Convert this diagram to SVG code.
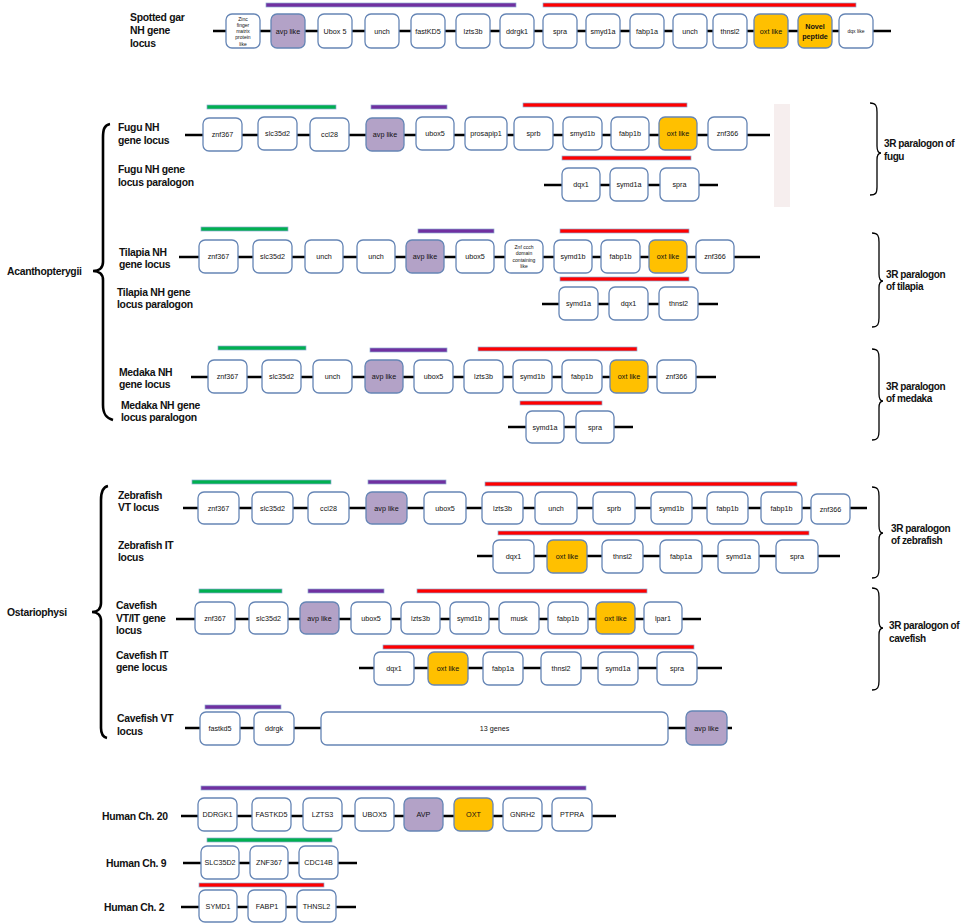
<svg xmlns="http://www.w3.org/2000/svg" width="964" height="923" viewBox="0 0 964 923">
<style>
.g{fill:#fff;stroke:#6585B5;stroke-width:1.3}
.a{fill:#B3A2C7;stroke:#6585B5;stroke-width:1.3}
.o{fill:#FFC000;stroke:#6585B5;stroke-width:1.3}
.t{font-family:"Liberation Sans",Arial,sans-serif;font-size:7.2px;fill:#111;text-anchor:middle;dominant-baseline:central}
.s{font-size:5px}
.b{font-weight:bold}
.l{font-family:"Liberation Sans",Arial,sans-serif;font-size:10.4px;font-weight:bold;fill:#111;dominant-baseline:central;letter-spacing:-0.3px}
.r{font-size:10px;letter-spacing:-0.4px}
.c{stroke:#000;stroke-width:2.6;fill:none}
.bp{fill:#7030A0;stroke:#8EA9D0;stroke-width:.7}
.br{fill:#FF0000;stroke:#8EA9D0;stroke-width:.7}
.bg{fill:#00B050;stroke:#8EA9D0;stroke-width:.7}
.br2{stroke:#000;stroke-width:1.3;fill:none}
</style>
<rect width="964" height="923" fill="#fff"/>
<rect x="774" y="104" width="16" height="103" fill="#F6EEEE"/>

<g id="connectors">
<line class="c" x1="213" y1="31" x2="891" y2="31" stroke-width="3"/>
<line class="c" x1="185" y1="135" x2="770" y2="135"/>
<line class="c" x1="544" y1="185" x2="718" y2="185"/>
<line class="c" x1="179" y1="257" x2="760" y2="257"/>
<line class="c" x1="542" y1="304" x2="718" y2="304"/>
<line class="c" x1="191" y1="377" x2="716" y2="377"/>
<line class="c" x1="508" y1="427" x2="633" y2="427"/>
<line class="c" x1="183" y1="508" x2="867" y2="508"/>
<line class="c" x1="477" y1="556" x2="840" y2="556"/>
<line class="c" x1="176" y1="619" x2="701" y2="619"/>
<line class="c" x1="359" y1="668" x2="722" y2="668"/>
<line class="c" x1="185" y1="728" x2="732" y2="728"/>
<line class="c" x1="181" y1="816" x2="616" y2="816"/>
<line class="c" x1="183" y1="863" x2="357" y2="863"/>
<line class="c" x1="181" y1="907" x2="356" y2="907"/>
</g>

<g id="bars">
<rect class="bp" x="266" y="3" width="250" height="4"/>
<rect class="br" x="543" y="3" width="313" height="4"/>
<rect class="bg" x="207" y="105" width="129" height="4"/>
<rect class="bp" x="371" y="105" width="76" height="4"/>
<rect class="br" x="523" y="103" width="164" height="4"/>
<rect class="br" x="562" y="156" width="129" height="4"/>
<rect class="bg" x="201" y="227" width="87" height="4"/>
<rect class="bp" x="418" y="229" width="76" height="4"/>
<rect class="br" x="560" y="229" width="129" height="4"/>
<rect class="br" x="560" y="277" width="129" height="4"/>
<rect class="bg" x="218" y="346" width="88" height="4"/>
<rect class="bp" x="370" y="348" width="77" height="4"/>
<rect class="br" x="478" y="347" width="159" height="4"/>
<rect class="br" x="520" y="401" width="82" height="4"/>
<rect class="bg" x="192" y="480" width="139" height="4"/>
<rect class="bp" x="368" y="480" width="78" height="4"/>
<rect class="br" x="485" y="482" width="312" height="4"/>
<rect class="br" x="498" y="531" width="311" height="4"/>
<rect class="bg" x="199" y="589" width="83" height="4"/>
<rect class="bp" x="308" y="589" width="76" height="4"/>
<rect class="br" x="417" y="589" width="230" height="4"/>
<rect class="br" x="383" y="645" width="311" height="4"/>
<rect class="bp" x="205" y="705" width="76" height="4"/>
<rect class="bp" x="201" y="786" width="385" height="4"/>
<rect class="bg" x="207" y="838" width="125" height="4"/>
<rect class="br" x="199" y="883" width="125" height="4"/>
</g>

<g id="labels">
<text class="l" x="130" y="17">Spotted gar</text>
<text class="l" x="130" y="30">NH gene</text>
<text class="l" x="130" y="43">locus</text>
<text class="l" x="118" y="127">Fugu NH</text>
<text class="l" x="118" y="140">gene locus</text>
<text class="l" x="118" y="169">Fugu NH gene</text>
<text class="l" x="118" y="182">locus paralogon</text>
<text class="l" x="119" y="252">Tilapia NH</text>
<text class="l" x="119" y="264">gene locus</text>
<text class="l" x="117" y="292">Tilapia NH gene</text>
<text class="l" x="117" y="304">locus paralogon</text>
<text class="l" x="119" y="372">Medaka NH</text>
<text class="l" x="119" y="384">gene locus</text>
<text class="l" x="121" y="405">Medaka NH gene</text>
<text class="l" x="121" y="417">locus paralogon</text>
<text class="l" x="118" y="495">Zebrafish</text>
<text class="l" x="118" y="507">VT locus</text>
<text class="l" x="118" y="545">Zebrafish IT</text>
<text class="l" x="118" y="557">locus</text>
<text class="l" x="116" y="605">Cavefish</text>
<text class="l" x="116" y="618">VT/IT gene</text>
<text class="l" x="116" y="630">locus</text>
<text class="l" x="116" y="655">Cavefish IT</text>
<text class="l" x="116" y="667">gene locus</text>
<text class="l" x="117" y="718">Cavefish VT</text>
<text class="l" x="117" y="731">locus</text>
<text class="l" x="102" y="816">Human Ch. 20</text>
<text class="l" x="106" y="863">Human Ch. 9</text>
<text class="l" x="104" y="907">Human Ch. 2</text>
<text class="l" x="7" y="271">Acanthopterygii</text>
<text class="l" x="7" y="612">Ostariophysi</text>
<text class="l r" x="884" y="143">3R paralogon of</text>
<text class="l r" x="884" y="156">fugu</text>
<text class="l r" x="886" y="274">3R paralogon</text>
<text class="l r" x="886" y="286">of tilapia</text>
<text class="l r" x="886" y="386">3R paralogon</text>
<text class="l r" x="886" y="398">of medaka</text>
<text class="l r" x="891" y="528">3R paralogon</text>
<text class="l r" x="891" y="540">of zebrafish</text>
<text class="l r" x="889" y="625">3R paralogon of</text>
<text class="l r" x="889" y="638">cavefish</text>
</g>

<g id="braces">
<path class="c" d="M110 124 C104 125,103 130,103 138 L103 262 C103 268,99 271,93 271 C99 271,103 274,103 280 L103 405 C103 414,106 418,113 420"/>
<path class="c" stroke-width="1.6" d="M108 486 C103 487,101 492,101 500 L101 603 C101 609,97 612,92 612 C97 612,101 615,101 621 L101 728 C101 734,103 737,107 738"/>
<path class="br2" d="M870 103 C876 103,877 106,877 112 L877 146 C877 151,878 153,881 153 C878 153,877 155,877 160 L877 187 C877 193,876 195,870 195"/>
<path class="br2" d="M872 233 C878 233,879 236,879 242 L879 274 C879 279,880 281,883 281 C880 281,879 283,879 288 L879 318 C879 324,878 327,872 327"/>
<path class="br2" d="M872 349 C878 349,879 352,879 358 L879 394 C879 399,880 401,883 401 C880 401,879 403,879 408 L879 431 C879 437,878 440,872 440"/>
<path class="br2" d="M872 487 C878 487,879 490,879 496 L879 526 C879 531,880 533,883 533 C880 533,879 535,879 540 L879 569 C879 575,878 578,872 578"/>
<path class="br2" d="M872 588 C878 588,879 591,879 597 L879 621 C879 626,880 628,883 628 C880 628,879 630,879 635 L879 681 C879 687,878 690,872 690"/>
</g>

<g id="gar">
<g id="gar1"><rect class="g" x="226" y="14" width="34" height="34" rx="6"/><text class="t s" x="243" y="18.5">Zinc</text><text class="t s" x="243" y="24.8">finger</text><text class="t s" x="243" y="31">matrix</text><text class="t s" x="243" y="37.3">protein</text><text class="t s" x="243" y="43.5">like</text></g>
<g id="gar2"><rect class="a" x="271" y="14" width="34" height="34" rx="6"/><text class="t" x="288" y="31">avp like</text></g>
<g id="gar3"><rect class="g" x="318" y="14" width="34" height="34" rx="6"/><text class="t" x="335" y="31">Ubox 5</text></g>
<g id="gar4"><rect class="g" x="365" y="14" width="34" height="34" rx="6"/><text class="t" x="382" y="31">unch</text></g>
<g id="gar5"><rect class="g" x="411" y="14" width="34" height="34" rx="6"/><text class="t" x="428" y="31">fastKD5</text></g>
<g id="gar6"><rect class="g" x="456" y="14" width="34" height="34" rx="6"/><text class="t" x="473" y="31">lzts3b</text></g>
<g id="gar7"><rect class="g" x="500" y="14" width="34" height="34" rx="6"/><text class="t" x="517" y="31">ddrgk1</text></g>
<g id="gar8"><rect class="g" x="543" y="14" width="34" height="34" rx="6"/><text class="t" x="560" y="31">spra</text></g>
<g id="gar9"><rect class="g" x="586" y="14" width="34" height="34" rx="6"/><text class="t" x="603" y="31">smyd1a</text></g>
<g id="gar10"><rect class="g" x="630" y="14" width="34" height="34" rx="6"/><text class="t" x="647" y="31">fabp1a</text></g>
<g id="gar11"><rect class="g" x="673" y="14" width="34" height="34" rx="6"/><text class="t" x="690" y="31">unch</text></g>
<g id="gar12"><rect class="g" x="713" y="14" width="34" height="34" rx="6"/><text class="t" x="730" y="31">thnsl2</text></g>
<g id="gar13"><rect class="o" x="754" y="14" width="34" height="34" rx="6"/><text class="t" x="771" y="31">oxt like</text></g>
<g id="gar14"><rect class="o" x="798" y="14" width="34" height="34" rx="6"/><text class="t b" x="815" y="26">Novel</text><text class="t b" x="815" y="36">peptide</text></g>
<g id="gar15"><rect class="g" x="839" y="14" width="34" height="34" rx="6"/><text class="t s" x="856" y="31">dqx like</text></g>
</g>

<g id="fugu">
<g id="fu1"><rect class="g" x="203" y="118" width="39" height="33" rx="6"/><text class="t" x="222.5" y="134.5">znf367</text></g>
<g id="fu2"><rect class="g" x="258" y="117" width="39" height="33" rx="6"/><text class="t" x="277.5" y="133.5">slc35d2</text></g>
<g id="fu3"><rect class="g" x="310" y="118" width="39" height="33" rx="6"/><text class="t" x="329.5" y="134.5">ccl28</text></g>
<g id="fu4"><rect class="a" x="366" y="118" width="38" height="33" rx="6"/><text class="t" x="385" y="134.5">avp like</text></g>
<g id="fu5"><rect class="g" x="416" y="117" width="38" height="33" rx="6"/><text class="t" x="435" y="133.5">ubox5</text></g>
<g id="fu6"><rect class="g" x="465" y="117" width="42" height="33" rx="6"/><text class="t" x="486" y="133.5">prosapip1</text></g>
<g id="fu7"><rect class="g" x="514" y="117" width="39" height="33" rx="6"/><text class="t" x="533.5" y="133.5">sprb</text></g>
<g id="fu8"><rect class="g" x="563" y="117" width="39" height="33" rx="6"/><text class="t" x="582.5" y="133.5">smyd1b</text></g>
<g id="fu9"><rect class="g" x="611" y="117" width="38" height="33" rx="6"/><text class="t" x="630" y="133.5">fabp1b</text></g>
<g id="fu10"><rect class="o" x="659" y="117" width="38" height="33" rx="6"/><text class="t" x="678" y="133.5">oxt like</text></g>
<g id="fu11"><rect class="g" x="708" y="117" width="39" height="33" rx="6"/><text class="t" x="727.5" y="133.5">znf366</text></g>
<g id="fp1"><rect class="g" x="562" y="168" width="38" height="33" rx="6"/><text class="t" x="581" y="184.5">dqx1</text></g>
<g id="fp2"><rect class="g" x="610" y="168" width="38" height="33" rx="6"/><text class="t" x="629" y="184.5">symd1a</text></g>
<g id="fp3"><rect class="g" x="660" y="168" width="39" height="33" rx="6"/><text class="t" x="679.5" y="184.5">spra</text></g>
</g>

<g id="tilapia">
<g id="ti1"><rect class="g" x="199" y="240" width="39" height="33" rx="6"/><text class="t" x="218.5" y="256.5">znf367</text></g>
<g id="ti2"><rect class="g" x="253" y="240" width="39" height="33" rx="6"/><text class="t" x="272.5" y="256.5">slc35d2</text></g>
<g id="ti3"><rect class="g" x="305" y="240" width="38" height="33" rx="6"/><text class="t" x="324" y="256.5">unch</text></g>
<g id="ti4"><rect class="g" x="357" y="240" width="38" height="33" rx="6"/><text class="t" x="376" y="256.5">unch</text></g>
<g id="ti5"><rect class="a" x="406" y="240" width="38" height="33" rx="6"/><text class="t" x="425" y="256.5">avp like</text></g>
<g id="ti6"><rect class="g" x="456" y="240" width="38" height="33" rx="6"/><text class="t" x="475" y="256.5">ubox5</text></g>
<g id="ti7"><rect class="g" x="505" y="240" width="38" height="33" rx="6"/><text class="t s" x="524" y="246.5">Znf ccch</text><text class="t s" x="524" y="253">domain</text><text class="t s" x="524" y="259.5">containing</text><text class="t s" x="524" y="266">like</text></g>
<g id="ti8"><rect class="g" x="554" y="240" width="38" height="33" rx="6"/><text class="t" x="573" y="256.5">symd1b</text></g>
<g id="ti9"><rect class="g" x="601" y="240" width="39" height="33" rx="6"/><text class="t" x="620.5" y="256.5">fabp1b</text></g>
<g id="ti10"><rect class="o" x="649" y="240" width="38" height="33" rx="6"/><text class="t" x="668" y="256.5">oxt like</text></g>
<g id="ti11"><rect class="g" x="696" y="240" width="38" height="33" rx="6"/><text class="t" x="715" y="256.5">znf366</text></g>
<g id="tp1"><rect class="g" x="559" y="287" width="39" height="33" rx="6"/><text class="t" x="578.5" y="303.5">symd1a</text></g>
<g id="tp2"><rect class="g" x="609" y="287" width="39" height="33" rx="6"/><text class="t" x="628.5" y="303.5">dqx1</text></g>
<g id="tp3"><rect class="g" x="659" y="287" width="39" height="33" rx="6"/><text class="t" x="678.5" y="303.5">thnsl2</text></g>
</g>

<g id="medaka">
<g id="me1"><rect class="g" x="208" y="360" width="39" height="33" rx="6"/><text class="t" x="227.5" y="376.5">znf367</text></g>
<g id="me2"><rect class="g" x="262" y="360" width="39" height="33" rx="6"/><text class="t" x="281.5" y="376.5">slc35d2</text></g>
<g id="me3"><rect class="g" x="313" y="360" width="39" height="33" rx="6"/><text class="t" x="332.5" y="376.5">unch</text></g>
<g id="me4"><rect class="a" x="365" y="360" width="38" height="33" rx="6"/><text class="t" x="384" y="376.5">avp like</text></g>
<g id="me5"><rect class="g" x="414" y="360" width="39" height="33" rx="6"/><text class="t" x="433.5" y="376.5">ubox5</text></g>
<g id="me6"><rect class="g" x="464" y="360" width="39" height="33" rx="6"/><text class="t" x="483.5" y="376.5">lzts3b</text></g>
<g id="me7"><rect class="g" x="513" y="360" width="39" height="33" rx="6"/><text class="t" x="532.5" y="376.5">symd1b</text></g>
<g id="me8"><rect class="g" x="562" y="360" width="40" height="33" rx="6"/><text class="t" x="582" y="376.5">fabp1b</text></g>
<g id="me9"><rect class="o" x="610" y="360" width="38" height="33" rx="6"/><text class="t" x="629" y="376.5">oxt like</text></g>
<g id="me10"><rect class="g" x="657" y="360" width="39" height="33" rx="6"/><text class="t" x="676.5" y="376.5">znf366</text></g>
<g id="mp1"><rect class="g" x="526" y="411" width="38" height="32" rx="6"/><text class="t" x="545" y="427">symd1a</text></g>
<g id="mp2"><rect class="g" x="576" y="411" width="38" height="32" rx="6"/><text class="t" x="595" y="427">spra</text></g>
</g>

<g id="zebrafish">
<g id="zv1"><rect class="g" x="198" y="492" width="41" height="32" rx="6"/><text class="t" x="218.5" y="508">znf367</text></g>
<g id="zv2"><rect class="g" x="252" y="492" width="41" height="32" rx="6"/><text class="t" x="272.5" y="508">slc35d2</text></g>
<g id="zv3"><rect class="g" x="308" y="492" width="41" height="32" rx="6"/><text class="t" x="328.5" y="508">ccl28</text></g>
<g id="zv4"><rect class="a" x="366" y="492" width="41" height="32" rx="6"/><text class="t" x="386.5" y="508">avp like</text></g>
<g id="zv5"><rect class="g" x="424" y="492" width="42" height="32" rx="6"/><text class="t" x="445" y="508">ubox5</text></g>
<g id="zv6"><rect class="g" x="482" y="492" width="41" height="32" rx="6"/><text class="t" x="502.5" y="508">lzts3b</text></g>
<g id="zv7"><rect class="g" x="535" y="492" width="42" height="32" rx="6"/><text class="t" x="556" y="508">unch</text></g>
<g id="zv8"><rect class="g" x="593" y="492" width="42" height="32" rx="6"/><text class="t" x="614" y="508">sprb</text></g>
<g id="zv9"><rect class="g" x="651" y="492" width="41" height="32" rx="6"/><text class="t" x="671.5" y="508">symd1b</text></g>
<g id="zv10"><rect class="g" x="707" y="492" width="41" height="32" rx="6"/><text class="t" x="727.5" y="508">fabp1b</text></g>
<g id="zv11"><rect class="g" x="761" y="492" width="41" height="32" rx="6"/><text class="t" x="781.5" y="508">fabp1b</text></g>
<g id="zv12"><rect class="g" x="811" y="494" width="39" height="30" rx="6"/><text class="t" x="830.5" y="509">znf366</text></g>
<g id="zi1"><rect class="g" x="493" y="540" width="41" height="33" rx="6"/><text class="t" x="513.5" y="556.5">dqx1</text></g>
<g id="zi2"><rect class="o" x="547" y="540" width="40" height="33" rx="6"/><text class="t" x="567" y="556.5">oxt like</text></g>
<g id="zi3"><rect class="g" x="602" y="540" width="41" height="33" rx="6"/><text class="t" x="622.5" y="556.5">thnsl2</text></g>
<g id="zi4"><rect class="g" x="660" y="540" width="42" height="33" rx="6"/><text class="t" x="681" y="556.5">fabp1a</text></g>
<g id="zi5"><rect class="g" x="718" y="540" width="41" height="33" rx="6"/><text class="t" x="738.5" y="556.5">symd1a</text></g>
<g id="zi6"><rect class="g" x="776" y="540" width="42" height="33" rx="6"/><text class="t" x="797" y="556.5">spra</text></g>
</g>

<g id="cavefish">
<g id="cv1"><rect class="g" x="195" y="602" width="40" height="32" rx="6"/><text class="t" x="215" y="618">znf367</text></g>
<g id="cv2"><rect class="g" x="249" y="602" width="39" height="32" rx="6"/><text class="t" x="268.5" y="618">slc35d2</text></g>
<g id="cv3"><rect class="a" x="300" y="602" width="39" height="32" rx="6"/><text class="t" x="319.5" y="618">avp like</text></g>
<g id="cv4"><rect class="g" x="351" y="602" width="40" height="32" rx="6"/><text class="t" x="371" y="618">ubox5</text></g>
<g id="cv5"><rect class="g" x="401" y="602" width="39" height="32" rx="6"/><text class="t" x="420.5" y="618">lzts3b</text></g>
<g id="cv6"><rect class="g" x="450" y="602" width="39" height="32" rx="6"/><text class="t" x="469.5" y="618">symd1b</text></g>
<g id="cv7"><rect class="g" x="499" y="602" width="40" height="32" rx="6"/><text class="t" x="519" y="618">musk</text></g>
<g id="cv8"><rect class="g" x="548" y="602" width="40" height="32" rx="6"/><text class="t" x="568" y="618">fabp1b</text></g>
<g id="cv9"><rect class="o" x="596" y="602" width="39" height="32" rx="6"/><text class="t" x="615.5" y="618">oxt like</text></g>
<g id="cv10"><rect class="g" x="644" y="602" width="38" height="32" rx="6"/><text class="t" x="663" y="618">lpar1</text></g>
<g id="ci1"><rect class="g" x="374" y="652" width="40" height="33" rx="6"/><text class="t" x="394" y="668.5">dqx1</text></g>
<g id="ci2"><rect class="o" x="428" y="652" width="40" height="33" rx="6"/><text class="t" x="448" y="668.5">oxt like</text></g>
<g id="ci3"><rect class="g" x="483" y="652" width="40" height="33" rx="6"/><text class="t" x="503" y="668.5">fabp1a</text></g>
<g id="ci4"><rect class="g" x="541" y="652" width="40" height="33" rx="6"/><text class="t" x="561" y="668.5">thnsl2</text></g>
<g id="ci5"><rect class="g" x="598" y="652" width="40" height="33" rx="6"/><text class="t" x="618" y="668.5">symd1a</text></g>
<g id="ci6"><rect class="g" x="657" y="652" width="40" height="33" rx="6"/><text class="t" x="677" y="668.5">spra</text></g>
<g id="cw1"><rect class="g" x="200" y="712" width="40" height="33" rx="6"/><text class="t" x="220" y="728.5">fastkd5</text></g>
<g id="cw2"><rect class="g" x="254" y="712" width="40" height="33" rx="6"/><text class="t" x="274" y="728.5">ddrgk</text></g>
<g id="cw3"><rect class="g" x="321" y="712" width="347" height="33" rx="6"/><text class="t" x="494.5" y="728.5">13 genes</text></g>
<g id="cw4"><rect class="a" x="686" y="711" width="41" height="34" rx="6"/><text class="t" x="706.5" y="728">avp like</text></g>
</g>

<g id="human">
<g id="h1"><rect class="g" x="198" y="798" width="39" height="33" rx="6"/><text class="t" x="217.5" y="814.5">DDRGK1</text></g>
<g id="h2"><rect class="g" x="252" y="798" width="39" height="33" rx="6"/><text class="t" x="271.5" y="814.5">FASTKD5</text></g>
<g id="h3"><rect class="g" x="303" y="798" width="39" height="33" rx="6"/><text class="t" x="322.5" y="814.5">LZTS3</text></g>
<g id="h4"><rect class="g" x="355" y="798" width="39" height="33" rx="6"/><text class="t" x="374.5" y="814.5">UBOX5</text></g>
<g id="h5"><rect class="a" x="404" y="798" width="39" height="33" rx="6"/><text class="t" x="423.5" y="814.5">AVP</text></g>
<g id="h6"><rect class="o" x="454" y="798" width="39" height="33" rx="6"/><text class="t" x="473.5" y="814.5">OXT</text></g>
<g id="h7"><rect class="g" x="503" y="798" width="39" height="33" rx="6"/><text class="t" x="522.5" y="814.5">GNRH2</text></g>
<g id="h8"><rect class="g" x="552" y="798" width="40" height="33" rx="6"/><text class="t" x="572" y="814.5">PTPRA</text></g>
<g id="h9"><rect class="g" x="201" y="846" width="38" height="33" rx="6"/><text class="t" x="220" y="862.5">SLC35D2</text></g>
<g id="h10"><rect class="g" x="250" y="846" width="38" height="33" rx="6"/><text class="t" x="269" y="862.5">ZNF367</text></g>
<g id="h11"><rect class="g" x="299" y="846" width="39" height="33" rx="6"/><text class="t" x="318.5" y="862.5">CDC14B</text></g>
<g id="h12"><rect class="g" x="199" y="890" width="38" height="32" rx="6"/><text class="t" x="218" y="906">SYMD1</text></g>
<g id="h13"><rect class="g" x="248" y="890" width="38" height="32" rx="6"/><text class="t" x="267" y="906">FABP1</text></g>
<g id="h14"><rect class="g" x="297" y="890" width="39" height="32" rx="6"/><text class="t" x="316.5" y="906">THNSL2</text></g>
</g>
</svg>
